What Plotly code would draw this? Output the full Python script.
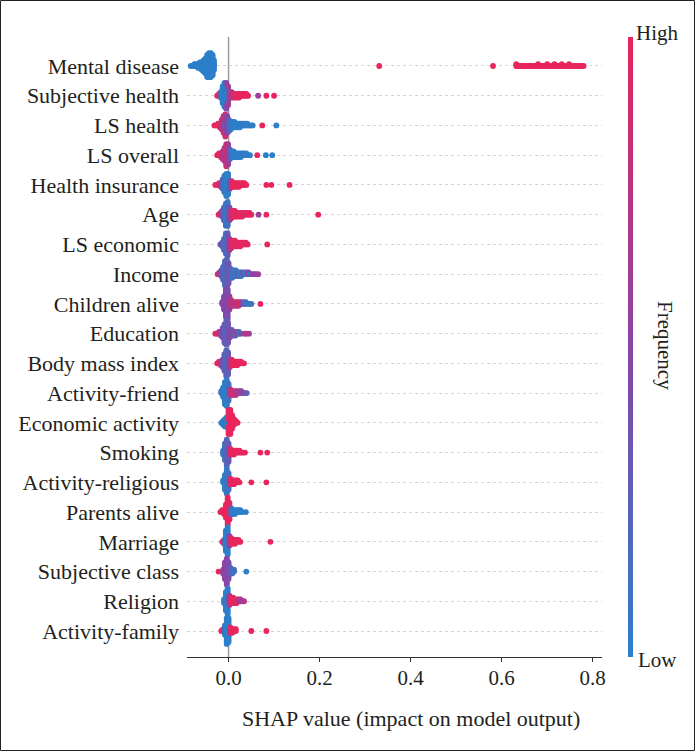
import plotly.graph_objects as go

# Features (top to bottom)
FEATURES = ["Mental disease", "Subjective health", "LS health", "LS overall",
            "Health insurance", "Age", "LS economic", "Income", "Children alive",
            "Education", "Body mass index", "Activity-friend", "Economic activity",
            "Smoking", "Activity-religious", "Parents alive", "Marriage",
            "Subjective class", "Religion", "Activity-family"]

# Each entry: (SHAP value, number of dots at that value, feature value 0=low..1=high)
MENTAL_DISEASE = [(-0.083, 1, 0), (-0.079, 1, 0), (-0.075, 2, 0), (-0.071, 2, 0), (-0.067, 3, 0),
                  (-0.063, 4, 0), (-0.059, 5, 0), (-0.055, 7, 0), (-0.051, 9, 0), (-0.047, 13, 0),
                  (-0.043, 14, 0), (-0.039, 14, 0), (-0.035, 12, 0), (-0.032, 6, 0),
                  (0.331, 1, 1), (0.581, 1, 1),
                  (0.632, 2, 1), (0.636, 1, 1), (0.640, 1, 1), (0.644, 1, 1), (0.648, 1, 1),
                  (0.652, 1, 1), (0.656, 1, 1), (0.660, 1, 1), (0.664, 1, 1), (0.668, 1, 1),
                  (0.672, 1, 1), (0.676, 1, 1), (0.680, 2, 1), (0.684, 1, 1), (0.688, 1, 1),
                  (0.692, 1, 1), (0.696, 1, 1), (0.700, 2, 1), (0.704, 1, 1), (0.708, 1, 1),
                  (0.712, 1, 1), (0.716, 2, 1), (0.720, 1, 1), (0.724, 1, 1), (0.728, 1, 1),
                  (0.732, 2, 1), (0.736, 1, 1), (0.740, 1, 1), (0.744, 1, 1), (0.748, 2, 1),
                  (0.752, 1, 1), (0.756, 1, 1), (0.760, 1, 1), (0.764, 1, 1), (0.768, 1, 1),
                  (0.772, 1, 1), (0.776, 1, 1), (0.780, 1, 1)]
SUBJECTIVE_HEALTH = [(-0.025, 1, 1), (-0.021, 2, 0.9), (-0.017, 4, 0.3), (-0.013, 10, 0),
                     (-0.009, 14, 0), (-0.005, 12, 0.05), (-0.005, 3, 0.45), (-0.001, 8, 0.1),
                     (-0.001, 3, 0.6), (0.003, 4, 0.7), (0.007, 4, 0.75), (0.011, 3, 0.85),
                     (0.015, 3, 0.9), (0.019, 3, 0.95), (0.023, 3, 1), (0.027, 2, 1),
                     (0.031, 2, 1), (0.035, 2, 1), (0.039, 2, 1), (0.043, 1, 1),
                     (0.065, 1, 0.6), (0.083, 1, 1), (0.100, 1, 1)]
LS_HEALTH = [(-0.031, 1, 1), (-0.027, 1, 1), (-0.023, 2, 1), (-0.019, 3, 0.9), (-0.015, 6, 0.8),
             (-0.011, 10, 0.7), (-0.007, 5, 0.3), (-0.007, 8, 0.85), (-0.003, 10, 0.5),
             (0.001, 7, 0.3), (0.005, 5, 0.1), (0.009, 4, 0.05), (0.013, 4, 0), (0.017, 3, 0),
             (0.021, 3, 0), (0.025, 3, 0), (0.029, 2, 0), (0.033, 2, 0.1), (0.037, 2, 0),
             (0.041, 2, 0), (0.045, 1, 0), (0.049, 1, 0.1), (0.053, 1, 0),
             (0.074, 1, 1), (0.105, 1, 0)]
LS_OVERALL = [(-0.025, 1, 1), (-0.021, 2, 1), (-0.017, 3, 0.9), (-0.013, 5, 0.8),
              (-0.009, 8, 0.7), (-0.005, 13, 0.85), (-0.001, 12, 0.6), (0.003, 6, 0.3),
              (0.007, 4, 0.1), (0.011, 4, 0), (0.015, 3, 0), (0.019, 3, 0), (0.023, 3, 0),
              (0.027, 3, 0), (0.031, 2, 0), (0.035, 2, 0.1), (0.039, 2, 0), (0.043, 1, 0),
              (0.047, 1, 0), (0.063, 1, 1), (0.082, 1, 0), (0.096, 1, 0)]
HEALTH_INSURANCE = [(-0.029, 1, 1), (-0.025, 1, 1), (-0.021, 2, 0.9), (-0.017, 3, 0.8),
                    (-0.013, 6, 0.3), (-0.009, 10, 0.05), (-0.005, 13, 0), (-0.001, 12, 0),
                    (0.003, 5, 0.4), (0.007, 4, 0.9), (0.011, 3, 1), (0.015, 3, 1),
                    (0.019, 3, 1), (0.023, 3, 1), (0.027, 2, 1), (0.031, 2, 1), (0.035, 2, 1),
                    (0.039, 1, 1), (0.083, 1, 1), (0.094, 1, 1), (0.134, 1, 1)]
AGE = [(-0.022, 1, 1), (-0.018, 2, 0.9), (-0.014, 4, 0.4), (-0.010, 8, 0.2), (-0.006, 13, 0.05),
       (-0.002, 14, 0.1), (0.002, 8, 0.4), (0.006, 5, 0.8), (0.010, 4, 0.9), (0.014, 4, 1),
       (0.018, 3, 0.9), (0.022, 3, 1), (0.026, 3, 1), (0.030, 3, 0.95), (0.034, 2, 1),
       (0.038, 2, 0.8), (0.042, 2, 1), (0.046, 2, 1), (0.050, 1, 1),
       (0.066, 1, 0.6), (0.083, 1, 1), (0.197, 1, 1)]
LS_ECONOMIC = [(-0.018, 1, 0.4), (-0.014, 3, 0.3), (-0.010, 7, 0.2), (-0.006, 12, 0.1),
               (-0.002, 13, 0.3), (0.002, 7, 0.6), (0.006, 5, 0.8), (0.010, 4, 0.9),
               (0.014, 4, 1), (0.018, 3, 1), (0.022, 3, 0.9), (0.026, 3, 1), (0.030, 2, 1),
               (0.034, 2, 1), (0.038, 2, 0.9), (0.042, 1, 1), (0.085, 1, 1)]
INCOME = [(-0.024, 1, 0.9), (-0.020, 2, 0.7), (-0.016, 4, 0.5), (-0.012, 8, 0.3),
          (-0.008, 14, 0.15), (-0.004, 16, 0.2), (0.000, 12, 0.35), (0.004, 6, 0.3),
          (0.008, 5, 0.1), (0.012, 4, 0.2), (0.016, 4, 0), (0.020, 3, 0.3), (0.024, 3, 0.1),
          (0.028, 3, 0), (0.032, 2, 0.4), (0.036, 2, 0), (0.040, 2, 0.2), (0.044, 2, 0.5),
          (0.048, 1, 0), (0.052, 1, 0.5), (0.056, 1, 0.6), (0.060, 1, 0.5), (0.065, 1, 0.6)]
CHILDREN_ALIVE = [(-0.014, 2, 0.5), (-0.010, 8, 0.45), (-0.006, 16, 0.5), (-0.002, 17, 0.4),
                  (0.002, 8, 0.55), (0.006, 4, 0.8), (0.010, 3, 0.9), (0.014, 3, 0.6),
                  (0.018, 3, 0.9), (0.022, 3, 0.7), (0.026, 2, 1), (0.030, 2, 0.5),
                  (0.034, 2, 0.3), (0.038, 2, 0.1), (0.042, 1, 0.2), (0.046, 1, 0),
                  (0.050, 1, 0.1), (0.070, 1, 1)]
EDUCATION = [(-0.029, 1, 1), (-0.025, 1, 1), (-0.021, 2, 0.8), (-0.017, 3, 0.6),
             (-0.013, 6, 0.4), (-0.009, 11, 0.3), (-0.005, 14, 0.25), (-0.001, 12, 0.35),
             (0.003, 5, 0.5), (0.007, 4, 0.3), (0.011, 3, 0.6), (0.015, 3, 0.2),
             (0.019, 2, 0.7), (0.023, 2, 0.1), (0.027, 1, 0.3), (0.035, 1, 0.6),
             (0.039, 1, 0.8), (0.045, 1, 0.6)]
BODY_MASS_INDEX = [(-0.025, 1, 1), (-0.021, 2, 1), (-0.017, 3, 0.8), (-0.013, 5, 0.4),
                   (-0.009, 10, 0.3), (-0.005, 15, 0.2), (-0.001, 13, 0.3), (0.003, 5, 0.7),
                   (0.007, 4, 0.9), (0.011, 3, 1), (0.015, 3, 1), (0.019, 3, 1),
                   (0.023, 2, 1), (0.027, 2, 1), (0.031, 1, 1), (0.034, 1, 1)]
ACTIVITY_FRIEND = [(-0.016, 2, 0.2), (-0.012, 6, 0.05), (-0.008, 13, 0), (-0.004, 15, 0),
                   (0.000, 10, 0.1), (0.004, 4, 0.7), (0.008, 3, 0.9), (0.012, 3, 0.85),
                   (0.016, 3, 0.7), (0.020, 2, 0.8), (0.024, 2, 0.6), (0.028, 2, 0.5),
                   (0.032, 1, 0.6), (0.036, 1, 0.4), (0.040, 1, 0.3)]
ECONOMIC_ACTIVITY = [(-0.016, 1, 0), (-0.012, 3, 0), (-0.008, 5, 0), (-0.004, 6, 0),
                     (0.000, 3, 0), (0.000, 11, 1), (0.004, 14, 1), (0.008, 8, 1),
                     (0.012, 4, 1), (0.016, 2, 1), (0.020, 1, 1)]
SMOKING = [(-0.012, 3, 0.1), (-0.008, 10, 0.1), (-0.004, 15, 0.2), (0.000, 11, 0.3),
           (0.004, 4, 0.9), (0.008, 3, 1), (0.012, 3, 1), (0.016, 2, 1), (0.020, 2, 1),
           (0.024, 2, 1), (0.028, 1, 1), (0.032, 1, 1), (0.036, 1, 1),
           (0.070, 1, 1), (0.085, 1, 1)]
ACTIVITY_RELIGIOUS = [(-0.012, 2, 0), (-0.008, 9, 0), (-0.004, 14, 0.05), (0.000, 10, 0.1),
                      (0.004, 4, 0.9), (0.008, 3, 1), (0.012, 3, 1), (0.016, 2, 1),
                      (0.020, 2, 1), (0.024, 1, 1), (0.050, 1, 1), (0.083, 1, 1)]
PARENTS_ALIVE = [(-0.018, 1, 1), (-0.014, 2, 1), (-0.010, 3, 1), (-0.006, 8, 1),
                 (-0.002, 16, 1), (0.002, 10, 0.95), (0.006, 4, 0.2), (0.010, 3, 0),
                 (0.014, 3, 0), (0.018, 2, 0), (0.022, 2, 0), (0.026, 2, 0), (0.030, 1, 0),
                 (0.038, 1, 0)]
MARRIAGE = [(-0.014, 1, 1), (-0.010, 3, 0.3), (-0.006, 12, 0), (-0.002, 16, 0),
            (0.002, 6, 0.5), (0.006, 4, 1), (0.010, 3, 1), (0.014, 3, 1), (0.018, 2, 1),
            (0.022, 2, 1), (0.026, 1, 1), (0.092, 1, 1)]
SUBJECTIVE_CLASS = [(-0.022, 1, 1), (-0.012, 3, 0.6), (-0.008, 10, 0.55), (-0.004, 15, 0.5),
                    (0.000, 10, 0.45), (0.004, 4, 0.3), (0.008, 3, 0.2), (0.012, 2, 0.1),
                    (0.039, 1, 0)]
RELIGION = [(-0.010, 3, 0), (-0.006, 11, 0), (-0.002, 15, 0), (0.002, 6, 0.6), (0.006, 4, 1),
            (0.010, 4, 1), (0.014, 3, 0.9), (0.018, 3, 1), (0.022, 2, 0.8), (0.026, 2, 0.7),
            (0.030, 1, 0.6), (0.034, 1, 0.7)]
ACTIVITY_FAMILY = [(-0.016, 1, 1), (-0.012, 2, 1), (-0.008, 6, 0.1), (-0.004, 15, 0),
                   (0.000, 14, 0), (0.004, 4, 0.9), (0.008, 3, 1), (0.012, 2, 1),
                   (0.016, 2, 1), (0.050, 1, 1), (0.083, 1, 1)]

SERIES = [MENTAL_DISEASE, SUBJECTIVE_HEALTH, LS_HEALTH, LS_OVERALL, HEALTH_INSURANCE, AGE,
          LS_ECONOMIC, INCOME, CHILDREN_ALIVE, EDUCATION, BODY_MASS_INDEX, ACTIVITY_FRIEND,
          ECONOMIC_ACTIVITY, SMOKING, ACTIVITY_RELIGIOUS, PARENTS_ALIVE, MARRIAGE,
          SUBJECTIVE_CLASS, RELIGION, ACTIVITY_FAMILY]

X_TICKS = [0.0, 0.2, 0.4, 0.6, 0.8]
X_TICK_LABELS = ["0.0", "0.2", "0.4", "0.6", "0.8"]

FONT = "Liberation Serif"
TXT = "#231f20"
COLORSCALE = [[0.0, "#2c7fc8"], [0.5, "#8a44a8"], [1.0, "#e8265c"]]
STEP = 0.062  # vertical spacing of stacked dots (row units)

n_feat = len(FEATURES)
fig = go.Figure()
for i, (name, pts) in enumerate(zip(FEATURES, SERIES)):
    row = n_feat - 1 - i
    used = {}
    xs, ys, cs = [], [], []
    for x, n, c in pts:
        for _ in range(n):
            k = used.get(x, 0)
            used[x] = k + 1
            layer = (k + 1) // 2
            sign = 1 if k % 2 == 1 else -1
            xs.append(x)
            ys.append(row + sign * layer * STEP)
            cs.append(c)
    fig.add_trace(go.Scatter(
        x=xs, y=ys, mode="markers", name=name, showlegend=False, hoverinfo="skip",
        marker=dict(size=5.8, color=cs, coloraxis="coloraxis", line=dict(width=0)),
    ))

W, H = 695, 751
L, R, T, B = 187, 93, 37, 94
pw, ph = W - L - R, H - T - B


def px(xp):
    return (xp - L) / pw


def py(yp):
    return 1 - (yp - T) / ph


fig.update_layout(
    width=W, height=H,
    margin=dict(l=L, r=R, t=T, b=B, autoexpand=False),
    plot_bgcolor="white", paper_bgcolor="white",
    font=dict(family=FONT, color=TXT),
    coloraxis=dict(
        colorscale=COLORSCALE, cmin=0, cmax=1,
        colorbar=dict(
            x=px(627.5), xanchor="left", y=0.5, yanchor="middle",
            lenmode="pixels", len=ph, thickness=5, thicknessmode="pixels",
            outlinewidth=0, showticklabels=False, ticks="", xpad=0, ypad=0,
        ),
    ),
    xaxis=dict(
        range=[-0.0913, 0.8204], tickvals=X_TICKS, ticktext=X_TICK_LABELS,
        showgrid=False, zeroline=False, showline=True, linecolor="#333333", linewidth=1,
        ticks="outside", ticklen=4, tickcolor="#333333", tickwidth=1, automargin=False,
        ticklabelstandoff=-2,
        tickfont=dict(size=21, family=FONT, color=TXT),
    ),
    yaxis=dict(
        range=[-0.874, 19.975], tickvals=list(range(n_feat)),
        ticktext=list(reversed(FEATURES)), automargin=False,
        showgrid=True, gridcolor="#d6d6d6", griddash="dot", gridwidth=1,
        zeroline=False, showline=False, ticks="", ticklabelstandoff=7,
        tickfont=dict(size=22, family=FONT, color=TXT),
    ),
    shapes=[
        dict(type="line", xref="x", yref="paper", x0=0, x1=0, y0=0, y1=1,
             line=dict(color="#9a9a9a", width=1.5), layer="below"),
        dict(type="rect", xref="paper", yref="paper",
             x0=px(0.5), x1=px(694.5), y0=py(750.5), y1=py(0.5),
             line=dict(color="#222222", width=1), fillcolor="rgba(0,0,0,0)"),
    ],
    annotations=[
        dict(text="SHAP value (impact on model output)", xref="paper", yref="paper",
             x=px(411), y=py(718), xanchor="center", yanchor="middle", showarrow=False,
             font=dict(size=22, family=FONT, color=TXT)),
        dict(text="High", xref="paper", yref="paper", x=px(657), y=py(33),
             xanchor="center", yanchor="middle", showarrow=False,
             font=dict(size=21, family=FONT, color=TXT)),
        dict(text="Low", xref="paper", yref="paper", x=px(657.5), y=py(660),
             xanchor="center", yanchor="middle", showarrow=False,
             font=dict(size=21, family=FONT, color=TXT)),
        dict(text="Frequency", xref="paper", yref="paper", x=px(665), y=py(345),
             xanchor="center", yanchor="middle", showarrow=False, textangle=90,
             font=dict(size=21, family=FONT, color=TXT)),
    ],
)

fig.write_html("out.html", config={"displayModeBar": False},
               post_script="document.body.style.margin='0px';")
